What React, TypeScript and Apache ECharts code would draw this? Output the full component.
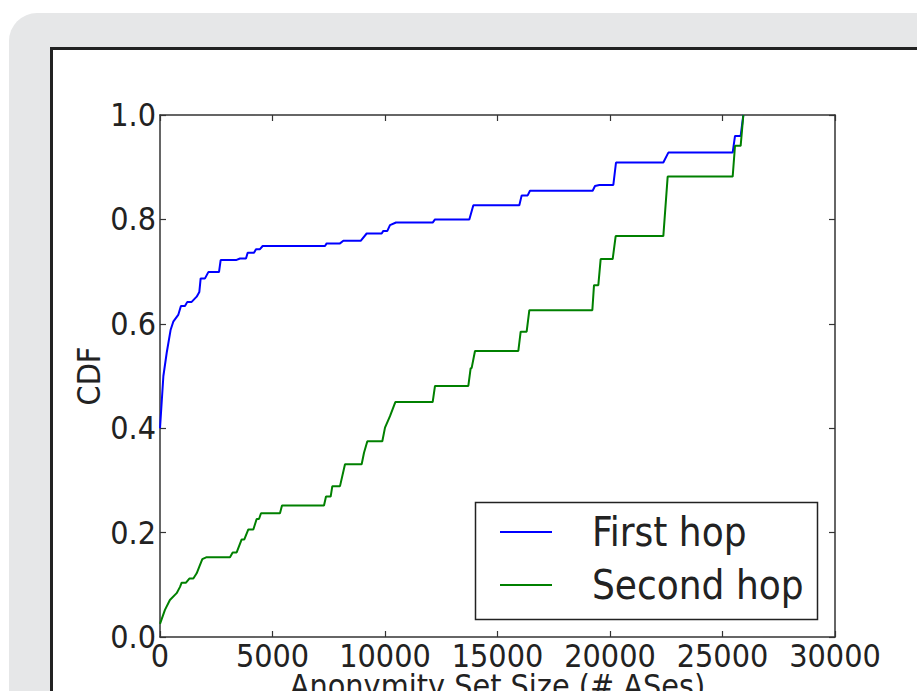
import React, { useEffect, useRef } from 'react';
import * as echarts from 'echarts';

const FONT = '"DejaVu Sans Condensed", "DejaVu Sans", sans-serif';

const xTicks = [0, 5000, 10000, 15000, 20000, 25000, 30000];
const yTicks = [0, 0.2, 0.4, 0.6, 0.8, 1.0];
const seriesNames = ['First hop', 'Second hop'];

const firstHop: [number, number][] = [
  [0, 0.40], [150, 0.50], [300, 0.545], [470, 0.588], [590, 0.604], [810, 0.617],
  [930, 0.634], [1110, 0.634], [1215, 0.642], [1407, 0.642], [1630, 0.652], [1748, 0.661],
  [1807, 0.687], [2000, 0.687], [2148, 0.699], [2622, 0.699], [2696, 0.722], [3378, 0.722],
  [3556, 0.725], [3822, 0.725], [3896, 0.736], [4178, 0.736], [4267, 0.743], [4444, 0.743],
  [4563, 0.749], [7333, 0.749], [7407, 0.754], [8000, 0.754], [8148, 0.759], [8919, 0.759],
  [9185, 0.773], [9852, 0.773], [9926, 0.778], [10104, 0.778], [10222, 0.789], [10489, 0.794],
  [12119, 0.794], [12222, 0.80], [13748, 0.80], [13926, 0.827], [15970, 0.827], [16074, 0.846],
  [16341, 0.846], [16444, 0.855], [19230, 0.855], [19333, 0.864], [19526, 0.866], [20148, 0.866],
  [20267, 0.909], [22370, 0.909], [22593, 0.928], [25452, 0.928], [25556, 0.960], [25807, 0.960],
  [25926, 1.0],
];

const secondHop: [number, number][] = [
  [0, 0.025], [220, 0.052], [440, 0.071], [740, 0.084], [890, 0.096], [963, 0.104],
  [1156, 0.104], [1304, 0.112], [1481, 0.112], [1630, 0.122], [1748, 0.135], [1881, 0.149],
  [2074, 0.153], [3111, 0.153], [3230, 0.162], [3407, 0.162], [3630, 0.187], [3748, 0.187],
  [3926, 0.206], [4148, 0.206], [4296, 0.226], [4400, 0.226], [4489, 0.237], [5333, 0.237],
  [5422, 0.252], [7289, 0.252], [7378, 0.269], [7585, 0.269], [7659, 0.289], [8000, 0.289],
  [8222, 0.331], [8963, 0.331], [9067, 0.353], [9215, 0.375], [9881, 0.375], [10000, 0.401],
  [10222, 0.423], [10459, 0.45], [12119, 0.45], [12222, 0.481], [13704, 0.481], [13807, 0.515],
  [13850, 0.515], [14000, 0.548], [15926, 0.548], [16030, 0.585], [16296, 0.585], [16415, 0.626],
  [19215, 0.626], [19289, 0.674], [19481, 0.674], [19585, 0.724], [20119, 0.724], [20252, 0.768],
  [22370, 0.768], [22563, 0.882], [25452, 0.882], [25556, 0.941], [25807, 0.941], [25926, 1.0],
];

const AX = '#333333';
const TXT = '#222222';

function buildOption() {
  const axisLine = { show: true, onZero: false, lineStyle: { color: AX, width: 1.5 } };
  const axisTick = { show: true, inside: true, length: 6, lineStyle: { color: AX, width: 1.2 } };
  const xCommon = {
    type: 'value',
    min: xTicks[0],
    max: xTicks[xTicks.length - 1],
    interval: xTicks[1] - xTicks[0],
    axisLine,
    axisTick,
    splitLine: { show: false },
  };
  const yCommon = {
    type: 'value',
    min: yTicks[0],
    max: yTicks[yTicks.length - 1],
    interval: 0.2,
    axisLine,
    axisTick,
    splitLine: { show: false },
  };
  return {
    animation: false,
    backgroundColor: '#ffffff',
    graphic: [
      {
        type: 'rect', z: -20, silent: true,
        shape: { x: 9, y: 13, width: 960, height: 760, r: 28 },
        style: { fill: '#e6e7e8' },
      },
      {
        type: 'rect', z: -19, silent: true,
        shape: { x: 51.5, y: 48.5, width: 920, height: 720 },
        style: { fill: '#ffffff', stroke: '#222222', lineWidth: 3 },
      },
      {
        type: 'rect', z: 3, silent: true,
        shape: { x: 475.5, y: 502.5, width: 342, height: 117 },
        style: { fill: '#ffffff', stroke: '#222222', lineWidth: 1.5 },
      },
    ],
    grid: {
      left: 160, top: 115, width: 675, height: 522,
      containLabel: false, outerBoundsMode: 'none',
    },
    xAxis: [
      {
        ...xCommon,
        position: 'bottom',
        axisLabel: {
          show: true, fontFamily: FONT, fontSize: 32, lineHeight: 32, color: TXT, margin: 3,
          formatter: (v: number) => String(v),
        },
        name: 'Anonymity Set Size (# ASes)',
        nameLocation: 'middle',
        nameGap: 37,
        nameMoveOverlap: false,
        nameTextStyle: {
          fontFamily: FONT, fontSize: 32, lineHeight: 24, color: TXT, verticalAlign: 'top',
        },
      },
      {
        ...xCommon,
        position: 'top',
        axisLabel: { show: false },
      },
    ],
    yAxis: [
      {
        ...yCommon,
        position: 'left',
        axisLabel: {
          show: true, fontFamily: FONT, fontSize: 32, color: TXT, margin: 4,
          formatter: (v: number) => v.toFixed(1),
        },
        name: 'CDF',
        nameLocation: 'middle',
        nameGap: 55,
        nameMoveOverlap: false,
        nameTextStyle: { fontFamily: FONT, fontSize: 32, color: TXT },
      },
      {
        ...yCommon,
        position: 'right',
        axisLabel: { show: false },
      },
    ],
    legend: {
      show: true,
      orient: 'vertical',
      left: 500,
      top: 510,
      padding: 0,
      icon: 'rect',
      itemWidth: 52,
      itemHeight: 2,
      itemGap: 9,
      z: 5,
      textStyle: {
        fontFamily: FONT, fontSize: 40, color: TXT, lineHeight: 44,
        padding: [0, 0, 0, 35],
      },
      data: seriesNames,
    },
    series: [
      {
        name: seriesNames[0],
        type: 'line',
        xAxisIndex: 0,
        yAxisIndex: 0,
        data: firstHop,
        symbol: 'none',
        showSymbol: false,
        lineStyle: { color: '#0000ff', width: 2 },
        itemStyle: { color: '#0000ff' },
        z: 2,
      },
      {
        name: seriesNames[1],
        type: 'line',
        xAxisIndex: 0,
        yAxisIndex: 0,
        data: secondHop,
        symbol: 'none',
        showSymbol: false,
        lineStyle: { color: '#008000', width: 2 },
        itemStyle: { color: '#008000' },
        z: 2,
      },
    ],
  };
}

export default function App() {
  const ref = useRef<HTMLDivElement>(null);
  useEffect(() => {
    document.body.style.margin = '0';
    if (!ref.current) return;
    const chart = echarts.init(ref.current, null, { renderer: 'svg' });
    chart.setOption(buildOption() as any);
    return () => chart.dispose();
  }, []);
  return <div ref={ref} style={{ width: 917, height: 691 }} />;
}
